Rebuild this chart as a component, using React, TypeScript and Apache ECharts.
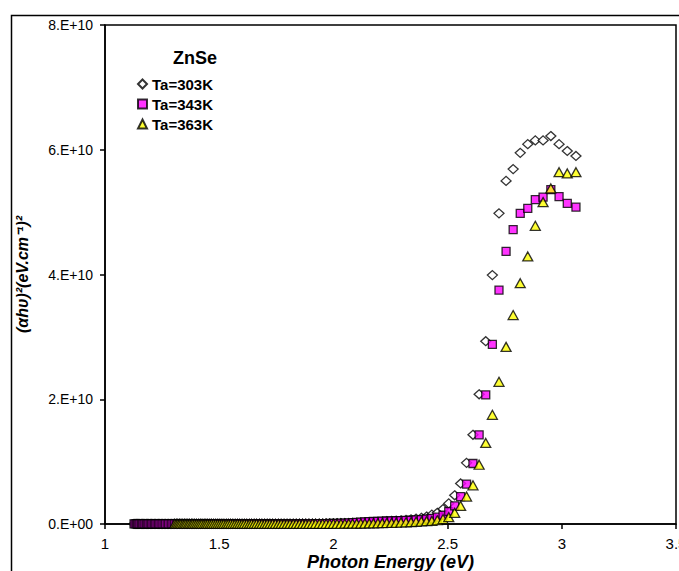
import React, { useEffect, useRef } from "react";
import * as echarts from "echarts";

// Photon energy (eV) of each measured point (wavelength grid 405..1100 nm, step 5 nm)
const energy = [
  3.062, 3.024, 2.988, 2.952, 2.918, 2.884, 2.851, 2.818, 2.787, 2.756,
  2.725, 2.696, 2.667, 2.638, 2.611, 2.583, 2.557, 2.531, 2.505, 2.48,
  2.455, 2.431, 2.408, 2.385, 2.362, 2.34, 2.318, 2.296, 2.275, 2.255,
  2.234, 2.214, 2.195, 2.175, 2.157, 2.138, 2.12, 2.102, 2.084, 2.067,
  2.05, 2.033, 2.016, 2.0, 1.984, 1.968, 1.953, 1.938, 1.922, 1.908,
  1.893, 1.879, 1.865, 1.851, 1.837, 1.824, 1.81, 1.797, 1.784, 1.771,
  1.759, 1.746, 1.734, 1.722, 1.71, 1.699, 1.687, 1.676, 1.664, 1.653,
  1.642, 1.632, 1.621, 1.61, 1.6, 1.59, 1.58, 1.57, 1.56, 1.55,
  1.54, 1.531, 1.521, 1.512, 1.503, 1.494, 1.485, 1.476, 1.467, 1.459,
  1.45, 1.442, 1.434, 1.425, 1.417, 1.409, 1.401, 1.393, 1.385, 1.378,
  1.37, 1.363, 1.355, 1.348, 1.341, 1.333, 1.326, 1.319, 1.312, 1.305,
  1.298, 1.292, 1.285, 1.278, 1.272, 1.265, 1.259, 1.253, 1.246, 1.24,
  1.234, 1.228, 1.222, 1.216, 1.21, 1.204, 1.198, 1.192, 1.187, 1.181,
  1.175, 1.17, 1.164, 1.159, 1.153, 1.148, 1.143, 1.138, 1.132, 1.127,
];

// (αhν)² in units of 1E+10 (eV.cm^-1)², same order as energy
const ta303 = [
  5.9, 5.98, 6.09, 6.22, 6.15, 6.15, 6.09, 5.95, 5.69, 5.5,
  4.98, 3.99, 2.93, 2.08, 1.43, 0.98, 0.65, 0.46, 0.33, 0.24,
  0.18, 0.15, 0.12, 0.1, 0.085, 0.075, 0.065, 0.06, 0.055, 0.05,
  0.045, 0.04, 0.035, 0.03, 0.028, 0.025, 0.022, 0.02, 0.018, 0.016,
  0.014, 0.013, 0.012, 0.011, 0.01, 0.009, 0.008, 0.007, 0.0065, 0.006,
  0.0055, 0.005, 0.0045, 0.004, 0.0035, 0.003, 0.003, 0.003, 0.0025, 0.0025,
  0.002, 0.002, 0.002, 0.002, 0.002, 0.002, 0.002, 0.002, 0.002, 0.002,
  0.002, 0.002, 0.002, 0.002, 0.002, 0.002, 0.002, 0.002, 0.002, 0.002,
  0.0015, 0.0015, 0.0015, 0.0015, 0.0015, 0.0015, 0.0015, 0.0015, 0.0015, 0.0015,
  0.0015, 0.0015, 0.0015, 0.0015, 0.0015, 0.0015, 0.0015, 0.0015, 0.0015, 0.0015,
  0.001, 0.001, 0.001, 0.001, 0.001, 0.001, 0.001, 0.001, 0.001, 0.001,
  0.001, 0.001, 0.001, 0.001, 0.001, 0.001, 0.001, 0.001, 0.001, 0.001,
  0.001, 0.001, 0.001, 0.001, 0.001, 0.001, 0.001, 0.001, 0.001, 0.001,
  0.001, 0.001, 0.001, 0.001, 0.001, 0.001, 0.001, 0.001, 0.001, 0.001,
];

const ta343 = [
  5.08, 5.14, 5.25, 5.36, 5.24, 5.2, 5.06, 4.98, 4.72, 4.37,
  3.75, 2.88, 2.07, 1.43, 0.97, 0.64, 0.44, 0.29, 0.2, 0.14,
  0.11, 0.09, 0.08, 0.07, 0.065, 0.06, 0.058, 0.055, 0.052, 0.05,
  0.048, 0.045, 0.042, 0.04, 0.037, 0.034, 0.03, 0.026, 0.022, 0.018,
  0.015, 0.013, 0.011, 0.009, 0.008, 0.007, 0.006, 0.005, 0.004, 0.0035,
  0.003, 0.003, 0.0025, 0.0025, 0.002, 0.002, 0.002, 0.002, 0.002, 0.002,
  0.002, 0.002, 0.002, 0.002, 0.002, 0.002, 0.002, 0.002, 0.002, 0.002,
  0.0015, 0.0015, 0.0015, 0.0015, 0.0015, 0.0015, 0.0015, 0.0015, 0.0015, 0.0015,
  0.0015, 0.0015, 0.0015, 0.0015, 0.0015, 0.0015, 0.0015, 0.0015, 0.0015, 0.0015,
  0.001, 0.001, 0.001, 0.001, 0.001, 0.001, 0.001, 0.001, 0.001, 0.001,
  0.001, 0.001, 0.001, 0.001, 0.001, 0.001, 0.001, 0.001, 0.001, 0.001,
  0.001, 0.001, 0.001, 0.001, 0.001, 0.001, 0.001, 0.001, 0.001, 0.001,
  0.001, 0.001, 0.001, 0.001, 0.001, 0.001, 0.001, 0.001, 0.001, 0.001,
  0.001, 0.001, 0.001, 0.001, 0.001, 0.001, 0.001, 0.001, 0.001, 0.001,
];

const ta363: (number | null)[] = [
  5.64, 5.62, 5.64, 5.38, 5.16, 4.78, 4.29, 3.86, 3.35, 2.84,
  2.28, 1.75, 1.3, 0.95, 0.62, 0.44, 0.29, 0.18, 0.11, 0.08,
  0.06, 0.05, 0.045, 0.04, 0.035, 0.03, 0.027, 0.024, 0.02, 0.018,
  0.016, 0.014, 0.012, 0.01, 0.009, 0.008, 0.007, 0.006, 0.005, 0.005,
  0.0045, 0.004, 0.004, 0.0035, 0.0035, 0.003, 0.003, 0.003, 0.0025, 0.0025,
  0.002, 0.002, 0.002, 0.002, 0.002, 0.002, 0.002, 0.002, 0.002, 0.002,
  0.002, 0.002, 0.002, 0.002, 0.002, 0.002, 0.002, 0.002, 0.002, 0.002,
  0.001, 0.001, 0.001, 0.001, 0.001, 0.001, 0.001, 0.001, 0.001, 0.001,
  0.001, 0.001, 0.001, 0.001, 0.001, 0.001, 0.001, 0.001, 0.001, 0.001,
  0.001, 0.001, 0.001, 0.001, 0.001, 0.001, 0.001, 0.001, 0.001, 0.001,
  0.001, 0.001, 0.001, 0.001, 0.001, 0.001, 0.001, 0.001, 0.001, 0.001,
  null, null, null, null, null, null, null, null, null, null,
  null, null, null, null, null, null, null, null, null, null,
  null, null, null, null, null, null, null, null, null, null,
];

const seriesNames = ["Ta=303K", "Ta=343K", "Ta=363K"];
const xTicks = { min: 1, max: 3.5, interval: 0.5 };
const yTicks = { min: 0, max: 8, interval: 2 };

const FONT = "'Liberation Sans', Arial, sans-serif";

// points ordered from low to high energy (drawn left to right)
function pairs(vals: (number | null)[]) {
  const out: [number, number][] = [];
  vals.forEach((v, i) => {
    if (v !== null) out.push([energy[i], v]);
  });
  return out.reverse();
}

export default function App() {
  const ref = useRef<HTMLDivElement>(null);
  useEffect(() => {
    if (!ref.current) return;
    const chart = echarts.init(ref.current, null, { renderer: "svg" });
    const markerBorder = { borderColor: "#000", borderWidth: 1.3 };
    chart.setOption({
      animation: false,
      backgroundColor: "#fff",
      title: {
        text: "ZnSe",
        left: 173,
        top: 49,
        padding: 0,
        textStyle: { fontFamily: FONT, fontSize: 18, fontWeight: "bold", color: "#000" },
      },
      legend: {
        orient: "vertical",
        left: 137,
        top: 76,
        itemWidth: 9,
        itemHeight: 9,
        itemGap: 4,
        padding: 0,
        data: seriesNames,
        textStyle: { fontFamily: FONT, fontSize: 15, fontWeight: "bold", color: "#000", lineHeight: 16 },
      },
      graphic: [
        {
          type: "rect",
          left: 9,
          top: 13,
          shape: { width: 720, height: 620 },
          style: { fill: "none", stroke: "#000", lineWidth: 1.5 },
          silent: true,
        },
      ],
      grid: {
        left: 105,
        top: 25,
        right: 3,
        bottom: 47,
        outerBoundsMode: "none",
        containLabel: false,
        show: true,
        borderColor: "#000",
        borderWidth: 1.5,
        backgroundColor: "#fff",
      },
      xAxis: {
        type: "value",
        min: xTicks.min,
        max: xTicks.max,
        interval: xTicks.interval,
        name: "Photon Energy (eV)",
        nameLocation: "middle",
        nameGap: 29,
        nameMoveOverlap: false,
        nameTextStyle: {
          fontFamily: FONT,
          fontSize: 18,
          fontWeight: "bold",
          fontStyle: "italic",
          color: "#000",
          verticalAlign: "top",
          lineHeight: 18,
        },
        axisLine: { show: true, onZero: false, lineStyle: { color: "#000", width: 1.5 } },
        axisTick: { show: true, inside: false, length: 5, lineStyle: { color: "#000", width: 1.5 } },
        axisLabel: {
          fontFamily: FONT,
          fontSize: 15,
          lineHeight: 15,
          color: "#000",
          margin: 12,
          showMaxLabel: true,
          hideOverlap: false,
          formatter: (v: number) => String(v),
        },
        splitLine: { show: false },
      },
      yAxis: {
        type: "value",
        min: yTicks.min,
        max: yTicks.max,
        interval: yTicks.interval,
        name: "(αhυ)²(eV.cm⁻¹)²",
        nameLocation: "middle",
        nameRotate: 90,
        nameGap: 75,
        nameMoveOverlap: false,
        nameTextStyle: { fontFamily: FONT, fontSize: 16, fontWeight: "bold", fontStyle: "italic", color: "#000" },
        axisLine: { show: true, lineStyle: { color: "#000", width: 1.5 } },
        axisTick: { show: true, inside: false, length: 5, lineStyle: { color: "#000", width: 1.5 } },
        axisLabel: {
          fontFamily: FONT,
          fontSize: 14,
          color: "#000",
          margin: 12,
          formatter: (v: number) => (v === 0 ? "0.E+00" : v + ".E+10"),
        },
        splitLine: { show: false },
      },
      series: [
        {
          name: seriesNames[0],
          type: "scatter",
          symbol: "diamond",
          symbolSize: [10, 9],
          itemStyle: { color: "#fff", ...markerBorder },
          data: pairs(ta303),
        },
        {
          name: seriesNames[1],
          type: "scatter",
          symbol: "rect",
          symbolSize: 8,
          itemStyle: { color: "#ff00ff", ...markerBorder },
          data: pairs(ta343),
        },
        {
          name: seriesNames[2],
          type: "scatter",
          symbol: "triangle",
          symbolSize: [10, 9],
          itemStyle: { color: "#ffff00", ...markerBorder },
          data: pairs(ta363),
        },
      ],
    });
    return () => chart.dispose();
  }, []);
  return (
    <div style={{ position: "fixed", left: 0, top: 0, width: 679, height: 571, overflow: "hidden", background: "#fff" }}>
      <div ref={ref} style={{ width: 679, height: 571 }} />
    </div>
  );
}
